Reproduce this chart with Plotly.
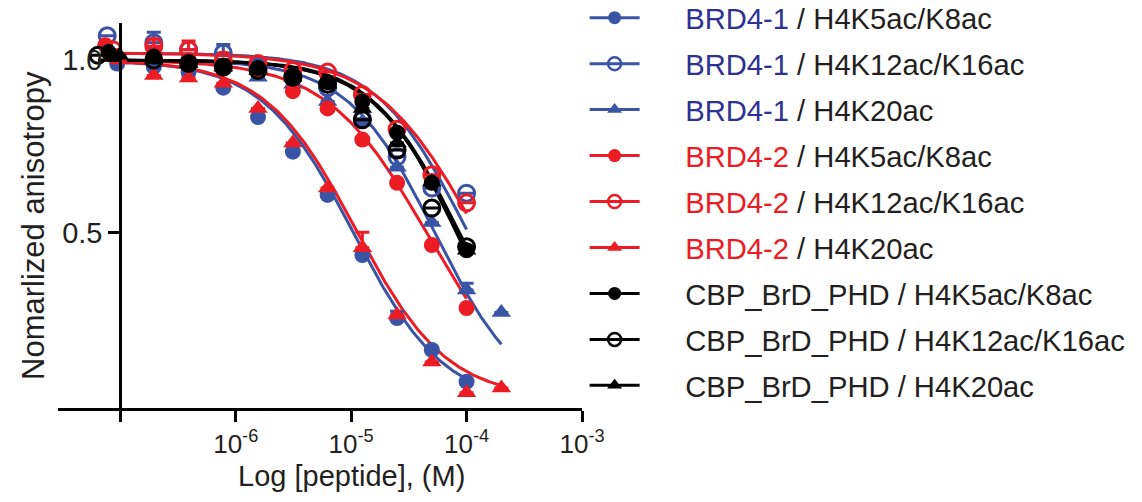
import numpy as np
import plotly.graph_objects as go

# ---------------- data ----------------
protein = ["BRD4-1", "BRD4-1", "BRD4-1", "BRD4-2", "BRD4-2", "BRD4-2",
           "CBP_BrD_PHD", "CBP_BrD_PHD", "CBP_BrD_PHD"]
peptide = ["H4K5ac/K8ac", "H4K12ac/K16ac", "H4K20ac"] * 3

# common dilution series (M)
conc_common = [1.95e-7, 3.9e-7, 7.8e-7, 1.56e-6, 3.125e-6, 6.25e-6,
               1.25e-5, 2.5e-5, 5e-5, 1e-4]
# lowest plotted concentration per series (points are slightly offset)
first_conc = [9.4e-8, 7.7e-8, 9.8e-8, 7.4e-8, 8.6e-8, 9.8e-8, 7.9e-8, 6.4e-8, 9.8e-8]
# highest extra concentration (only the H4K20ac BRD4 series)
extra_conc = [None, None, 2e-4, None, None, 2e-4, None, None, None]

y_brd41_k5k8 = [0.99, 0.98, 0.965, 0.92, 0.835, 0.735, 0.61, 0.436, 0.254, 0.162, 0.07]
y_brd41_k12k16 = [1.07, 1.05, 1.03, 1.02, 0.98, 0.95, 0.92, 0.83, 0.72, 0.63, 0.615]
y_brd41_k20 = [1.0, 1.01, 0.99, 0.98, 0.95, 0.93, 0.88, 0.82, 0.69, 0.53, 0.335, 0.27]
y_brd42_k5k8 = [1.043, 1.02, 1.0, 0.98, 0.97, 0.91, 0.86, 0.77, 0.645, 0.465, 0.283]
y_brd42_k12k16 = [1.03, 1.04, 1.03, 1.0, 0.99, 0.97, 0.965, 0.90, 0.80, 0.668, 0.587]
y_brd42_k20 = [1.0, 0.955, 0.948, 0.933, 0.86, 0.76, 0.63, 0.457, 0.263, 0.127, 0.038, 0.052]
y_cbp_k5k8 = [1.023, 1.01, 0.99, 0.98, 0.977, 0.95, 0.936, 0.88, 0.79, 0.645, 0.45]
y_cbp_k12k16 = [1.014, 1.0, 0.99, 0.98, 0.97, 0.95, 0.93, 0.827, 0.74, 0.572, 0.46]
y_cbp_k20 = [1.014, 1.0, 0.99, 0.98, 0.97, 0.95, 0.93, 0.86, 0.76, 0.647, 0.45]

# upper error (SD) shown above the markers
e_brd41_k5k8 = [0, 0, 0, 0, 0.02, 0.02, 0, 0, 0.02, 0, 0]
e_brd41_k12k16 = [0, 0.03, 0, 0.025, 0, 0, 0, 0, 0, 0, 0]
e_brd41_k20 = [0, 0, 0, 0, 0, 0, 0, 0, 0, 0, 0.02, 0]
e_brd42_k5k8 = [0, 0, 0, 0, 0, 0, 0, 0, 0, 0, 0]
e_brd42_k12k16 = [0, 0.02, 0.025, 0, 0, 0, 0, 0, 0, 0, 0]
e_brd42_k20 = [0, 0, 0, 0, 0, 0, 0, 0.045, 0, 0, 0, 0]
e_cbp_k5k8 = [0, 0, 0, 0, 0, 0, 0, 0, 0, 0, 0]
e_cbp_k12k16 = [0, 0, 0, 0, 0, 0, 0, 0, 0, 0, 0]
e_cbp_k20 = [0, 0, 0, 0, 0, 0, 0, 0, 0, 0, 0]

# four-parameter logistic fit parameters
fit_top = [1.0, 1.02, 1.0, 1.0, 1.02, 1.0, 1.0, 1.0, 1.0]
fit_bottom = [0.0, 0.0, 0.0, 0.0, 0.0, 0.02, 0.0, 0.0, 0.0]
fit_ic50 = [1.05e-5, 1.0e-4, 5.3e-5, 4.5e-5, 1.2e-4, 1.1e-5, 8.7e-5, 8.2e-5, 8.5e-5]
fit_hill = [1.1, 1.1, 1.15, 1.0, 1.0, 1.1, 1.15, 1.2, 1.15]

y_values = [y_brd41_k5k8, y_brd41_k12k16, y_brd41_k20, y_brd42_k5k8, y_brd42_k12k16,
            y_brd42_k20, y_cbp_k5k8, y_cbp_k12k16, y_cbp_k20]
e_values = [e_brd41_k5k8, e_brd41_k12k16, e_brd41_k20, e_brd42_k5k8, e_brd42_k12k16,
            e_brd42_k20, e_cbp_k5k8, e_cbp_k12k16, e_cbp_k20]

x_tick_vals = [1e-7, 1e-6, 1e-5, 1e-4, 1e-3]
x_tick_text = ["", "10<sup>-6</sup>", "10<sup>-5</sup>", "10<sup>-4</sup>", "10<sup>-3</sup>"]
y_tick_vals = [0.5, 1.0]
y_tick_text = ["0.5", "1.0"]

# ---------------- styles ----------------
BLUE = "#3A54A5"
BLUE_TXT = "#2E3192"
RED = "#EC1C24"
BLACK = "#000000"
group_color = {"BRD4-1": BLUE, "BRD4-2": RED, "CBP_BrD_PHD": BLACK}
label_color = {"BRD4-1": BLUE_TXT, "BRD4-2": RED, "CBP_BrD_PHD": "#231F20"}
symbols = ["circle", "circle-open", "triangle-up"] * 3
FONT = "Liberation Sans, Arial, Helvetica, sans-serif"

fig = go.Figure()

xs_all = []
for i in range(9):
    xs = [first_conc[i]] + conc_common + ([extra_conc[i]] if extra_conc[i] else [])
    xs_all.append(xs)

# fitted curves
for i in range(9):
    xs = xs_all[i]
    xc = np.logspace(np.log10(xs[0]), np.log10(xs[-1]), 300)
    yc = fit_bottom[i] + (fit_top[i] - fit_bottom[i]) / (1 + (xc / fit_ic50[i]) ** fit_hill[i])
    fig.add_trace(go.Scatter(x=xc, y=yc, mode="lines", showlegend=False,
                             line=dict(color=group_color[protein[i]], width=3),
                             hoverinfo="skip"))

# data points
for i in range(9):
    col = group_color[protein[i]]
    sym = symbols[i]
    is_open = sym.endswith("open")
    fig.add_trace(go.Scatter(
        x=xs_all[i], y=y_values[i], mode="markers", showlegend=False,
        marker=dict(symbol=sym, size=16 if sym != "triangle-up" else 17,
                    color=col, line=dict(color=col, width=3 if is_open else 0)),
        error_y=dict(type="data", array=e_values[i], arrayminus=[0] * len(e_values[i]),
                     color=col, thickness=3, width=7, visible=True),
    ))

# legend entries
for i in range(9):
    col = group_color[protein[i]]
    sym = symbols[i]
    is_open = sym.endswith("open")
    name = ('&nbsp;&nbsp;&nbsp;&nbsp;&nbsp;<span style="color:%s">%s</span> / %s'
            % (label_color[protein[i]], protein[i], peptide[i]))
    fig.add_trace(go.Scatter(
        x=[None], y=[None], mode="lines+markers", name=name, legendgroup=str(i),
        line=dict(color=col, width=3),
        marker=dict(symbol=sym, size=13, color=col,
                    line=dict(color=col, width=2.5 if is_open else 0)),
    ))

# the page body adds an 8px offset, so the figure is 8px smaller than the window
W, H = 1134, 494
L, T = 50, 15
PW, PH = 524, 385
R, B = W - L - PW, H - T - PH
fig.update_layout(
    width=W, height=H,
    margin=dict(l=L, r=R, t=T, b=B, autoexpand=False),
    paper_bgcolor="white", plot_bgcolor="white",
    font=dict(family=FONT, size=26, color="#231F20"),
    showlegend=True,
    legend=dict(x=1.005, y=1.080, xanchor="left", yanchor="top",
                font=dict(family=FONT, size=29.2, color="#231F20"),
                tracegroupgap=5, itemwidth=50, maxheight=1.0,
                bgcolor="rgba(0,0,0,0)"),
    xaxis=dict(type="log", range=[-7.54, -3.0], showgrid=False, zeroline=False,
               showline=True, linecolor="black", linewidth=3,
               ticks="outside", ticklen=11, tickwidth=3, tickcolor="black",
               tickvals=x_tick_vals, ticktext=x_tick_text,
               tickfont=dict(family=FONT, size=26, color="#231F20")),
    yaxis=dict(range=[-0.006, 1.107], showgrid=False, zeroline=False,
               anchor="free", position=(np.log10(1e-7) + 7.54) / 4.54,
               showline=True, linecolor="black", linewidth=3,
               ticks="outside", ticklen=11, tickwidth=3, tickcolor="black",
               tickvals=y_tick_vals, ticktext=y_tick_text,
               tickfont=dict(family=FONT, size=29, color="#231F20")),
    annotations=[
        dict(text="Log [peptide], (M)", xref="paper", yref="paper",
             x=(351 - 58) / PW, y=-(476 - 408) / PH, xanchor="center", yanchor="middle",
             showarrow=False, font=dict(family=FONT, size=29, color="#231F20")),
        dict(text="Nomarlized anisotropy", xref="paper", yref="paper",
             x=-(58 - 33) / PW, y=(408 - 226) / PH, xanchor="center", yanchor="middle",
             textangle=-90, showarrow=False,
             font=dict(family=FONT, size=31, color="#231F20")),
    ],
)

fig.write_html("out.html")
